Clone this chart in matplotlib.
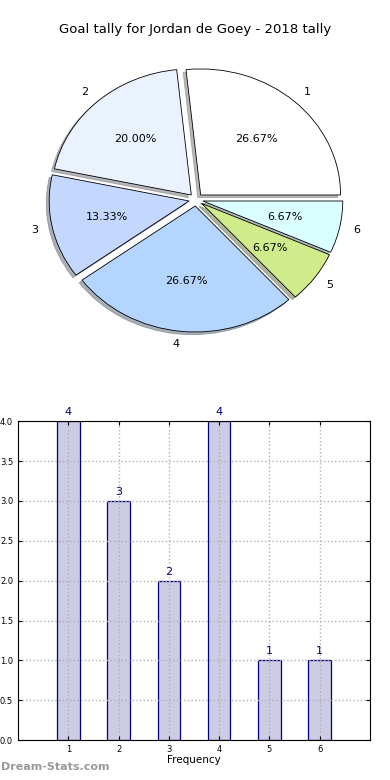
import matplotlib
matplotlib.use("Agg")
import matplotlib.pyplot as plt
import numpy as np

categories = ["1", "2", "3", "4", "5", "6"]
goals = [4, 3, 2, 4, 1, 1]
pie_colors = ["#ffffff", "#eaf1ff", "#c4d8ff", "#b4d5ff", "#d0eb8a", "#dbffff"]
explode = [0.05, 0.05, 0.05, 0.05, 0.05, 0.05]

fig = plt.figure(figsize=(3.9, 7.8), dpi=100)

# pie (old style, not forced round)
ax1 = fig.add_axes([0.054, 0.542, 0.897, 0.404])
wedges, texts, autotexts = ax1.pie(
    goals, labels=categories, colors=pie_colors, explode=explode,
    autopct="%.2f%%", startangle=0, labeldistance=1.1,
    shadow={"ox": -0.015, "oy": -0.015, "shade": 0.55},
    wedgeprops={"edgecolor": "black", "linewidth": 0.6},
    textprops={"fontsize": 8},
)
ax1.set_aspect("auto")
ax1.set_xlim(-1.25, 1.25)
ax1.set_ylim(-1.25, 1.25)
fig.text(0.5, 0.962, "Goal tally for Jordan de Goey - 2018 tally",
         ha="center", va="center", fontsize=9.5)

# bars
ax2 = fig.add_axes([0.046, 0.051, 0.903, 0.409])
x = np.arange(1, len(goals) + 1)
ax2.bar(x, goals, width=0.45, color="#ccccE5", edgecolor="#000080",
        linewidth=0.9, zorder=2)
for xi, g in zip(x, goals):
    ax2.text(xi, g + 0.05, str(g), ha="center", va="bottom",
             color="#000080", fontsize=8)
ax2.set_xlim(0, 7)
ax2.set_ylim(0, 4)
ax2.set_xticks(x)
ax2.set_xticklabels(categories)
ax2.set_yticks(np.arange(0, 4.01, 0.5))
ax2.tick_params(labelsize=6, direction="in", length=3, top=True, right=True)
ax2.grid(True, linestyle=":", color="#b0b0b0", linewidth=1, zorder=3)
ax2.set_axisbelow(False)
for sp in ax2.spines.values():
    sp.set_zorder(5)
ax2.set_xlabel("Frequency", fontsize=7.5, labelpad=1)

fig.text(0.003, 0.01, "Dream-Stats.com", color="#999999", fontsize=8,
         fontweight="bold", ha="left", va="bottom")

fig.savefig("out.png", dpi=100)
